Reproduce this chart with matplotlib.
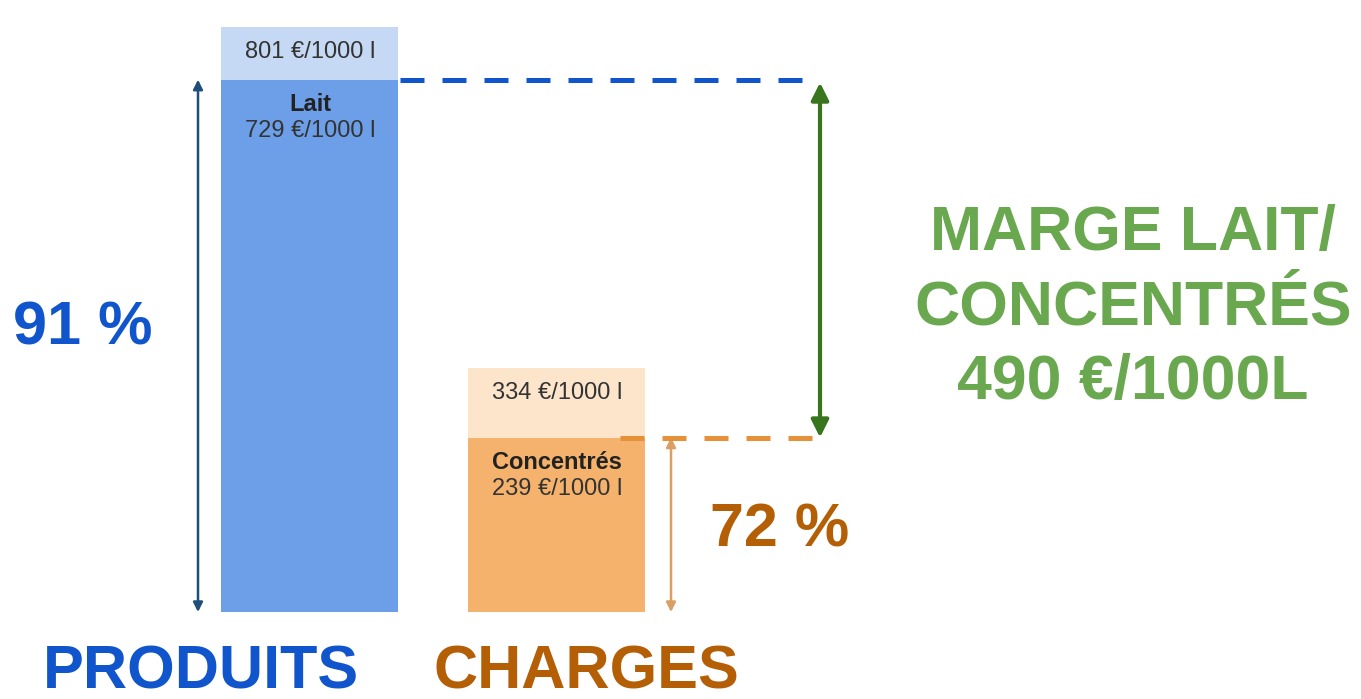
import matplotlib.pyplot as plt

plt.rcParams['font.family'] = ['Liberation Sans', 'DejaVu Sans']

# values in €/1000 l
categories = ["PRODUITS", "CHARGES"]
totals = [801, 334]
main_values = [729, 239]
main_labels = ["Lait", "Concentrés"]
percents = ["91 %", "72 %"]
margin_label = "MARGE LAIT/\nCONCENTRÉS\n490 €/1000L"

# layout / style
W, H = 1361, 699
bar_x = [310, 557]
bar_w = 177
light_colors = ["#c6d9f4", "#fde5cc"]
main_colors = ["#6c9fe8", "#f5b26c"]
title_colors = ["#1155cc", "#b45f06"]
green_text = "#6aa84f"
green_arrow = "#38761d"

fig = plt.figure(figsize=(W / 100, H / 100), dpi=100)
ax = fig.add_axes([0, 0, 1, 1])
ax.set_xlim(0, W)
ax.set_ylim(-119, 838)
ax.axis('off')

# bars: total (light) behind, main component in front
for i in range(2):
    ax.bar(bar_x[i], totals[i], width=bar_w, color=light_colors[i], zorder=1)
    ax.bar(bar_x[i], main_values[i], width=bar_w, color=main_colors[i], zorder=2)

    ax.annotate("%d €/1000 l" % totals[i], (bar_x[i], totals[i]),
                xytext=(0, -18), textcoords='offset points',
                ha='center', va='center', fontsize=17, color='#333333', zorder=3)
    ax.annotate(main_labels[i], (bar_x[i], main_values[i]),
                xytext=(0, -18), textcoords='offset points',
                ha='center', va='center', fontsize=17, fontweight='bold',
                color='#222222', zorder=3)
    ax.annotate("%d €/1000 l" % main_values[i], (bar_x[i], main_values[i]),
                xytext=(0, -37), textcoords='offset points',
                ha='center', va='center', fontsize=17, color='#333333', zorder=3)

# thin vertical arrows beside the bars
ax.annotate("", xy=(198, main_values[0]), xytext=(198, 0),
            arrowprops=dict(arrowstyle='<|-|>', color='#1f4e79', lw=1.8,
                            mutation_scale=14, shrinkA=0, shrinkB=0))
ax.annotate("", xy=(671, main_values[1]), xytext=(671, 0),
            arrowprops=dict(arrowstyle='<|-|>', color='#d9a066', lw=1.8,
                            mutation_scale=14, shrinkA=0, shrinkB=0))

# dashed level lines
ax.plot([400, 803], [main_values[0], main_values[0]], color='#1155cc', lw=3.6,
        linestyle=(0, (4.8, 3.6)), zorder=3)
ax.plot([620, 812], [main_values[1], main_values[1]], color='#e69138', lw=3.6,
        linestyle=(0, (4.8, 3.6)), zorder=3)

# margin arrow
ax.annotate("", xy=(820, main_values[0] - 4), xytext=(820, main_values[1]),
            arrowprops=dict(arrowstyle='<|-|>', color=green_arrow, lw=3,
                            mutation_scale=26, shrinkA=0, shrinkB=0))

# big labels
fig.text(83 / W, 1 - 329 / H, percents[0], ha='center', va='center',
         fontsize=44, fontweight='bold', color=title_colors[0])
fig.text(780 / W, 1 - 531 / H, percents[1], ha='center', va='center',
         fontsize=44, fontweight='bold', color=title_colors[1])
fig.text(201 / W, 1 - 673 / H, categories[0], ha='center', va='center',
         fontsize=44, fontweight='bold', color=title_colors[0])
fig.text(586 / W, 1 - 673 / H, categories[1], ha='center', va='center',
         fontsize=44, fontweight='bold', color=title_colors[1])
fig.text(1133 / W, 1 - 308 / H, margin_label, ha='center', va='center',
         fontsize=45, fontweight='bold', color=green_text, linespacing=1.33)

fig.savefig("out.png", dpi=100, facecolor='white')
